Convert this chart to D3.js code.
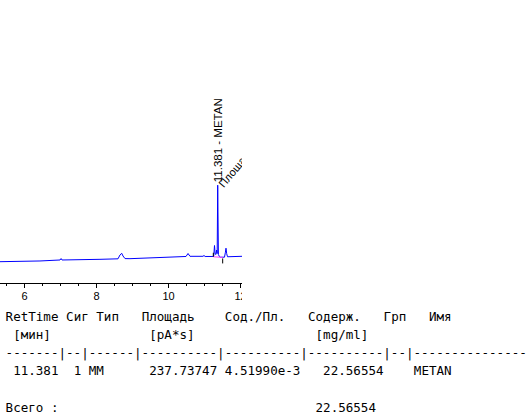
<!DOCTYPE html>
<html>
<head>
<meta charset="utf-8">
<script src="https://cdn.jsdelivr.net/npm/d3@7"></script>
<style>
  body { margin: 0; background: #fff; }
  svg { display: block; }
  .mono { font-family: "DejaVu Sans Mono", monospace; font-size: 12.55px; fill: #000; }
  .axis text { font-family: "Liberation Sans", Arial, sans-serif; font-size: 11px; }
</style>
</head>
<body>
<svg id="chart" width="529" height="418"></svg>
<script>
// signal trace (time in min, signal in pA)
var times   = [5.333, 6.444, 7.0, 7.03, 7.056, 8.111, 8.611, 8.667, 8.714, 8.75, 8.806, 8.944,
               9.778, 10.5, 10.556, 10.611, 10.972, 11.0, 11.03, 11.222, 11.27, 11.292, 11.31,
               11.33, 11.352, 11.366, 11.381, 11.40, 11.425, 11.444, 11.569, 11.595, 11.611,
               11.63, 11.653, 12.056];
var signal  = [1.40, 1.56, 1.78, 2.1, 1.78, 1.93, 2.04, 2.9, 3.27, 2.67, 2.09, 2.07,
               2.33, 2.56, 3.22, 2.6, 2.6, 2.78, 2.56, 2.56, 2.6, 5.0, 3.1,
               3.0, 4.0, 3.2, 18.4, 3.0, 2.6, 2.4, 2.4, 3.5, 4.4,
               3.2, 2.5, 2.6];

// integrated peak: retention time, start/end, baseline levels
var peakTimes  = [11.381];
var peakNames  = ["METAN"];
var peakAreas  = ["237.737"];
var peakStart  = [11.259];
var peakEnd    = [11.519];
var baseStart  = [2.50];
var baseEnd    = [2.35];

var majorTicks = [6, 8, 10, 12];
var minorTicks = [5.5, 6.5, 7, 7.5, 8.5, 9, 9.5, 10.5, 11, 11.5];

// report table
var headCols   = [0, 8, 12, 18, 29, 40, 50, 56];
var headLabels = ["RetTime", "Сиг", "Тип", "Площадь", "Сод./Пл.", "Содерж.", "Грп", "Имя"];
var unitCols   = [1, 19, 41];
var unitLabels = ["[мин]", "[pA*s]", "[mg/ml]"];
var sepWidths  = [7, 2, 6, 10, 10, 10, 2, 15];
var rowCols    = [1, 9, 11, 19, 29, 42, 54];
var rowValues  = ["11.381", "1", "MM", "237.73747", "4.51990e-3", "22.56554", "METAN"];
var totalLabel = "Всего :";
var totalValue = "22.56554";

var svg = d3.select('#chart');
var plotW = 242;

var x = d3.scaleLinear().domain([6, 12]).range([24, 240]);
var y = d3.scaleLinear().domain([0, 40]).range([268, 88]);

svg.append('clipPath').attr('id', 'clip')
    .append('rect').attr('x', 0).attr('y', 0).attr('width', plotW).attr('height', 305);

var g = svg.append('g').attr('clip-path', 'url(#clip)');

// axis
var axisY = 283;
g.append('g').attr('class', 'axis')
    .attr('transform', 'translate(0,' + axisY + ')')
    .call(d3.axisBottom(x).tickValues(minorTicks).tickSize(3).tickSizeOuter(0).tickFormat(''))
    .call(function(a) { a.select('.domain').remove(); });
var ax = g.append('g').attr('class', 'axis')
    .attr('transform', 'translate(0,' + axisY + ')')
    .call(d3.axisBottom(x).tickValues(majorTicks).tickSize(5).tickSizeOuter(0)
        .tickPadding(4).tickFormat(d3.format('d')));
ax.select('.domain').remove();
g.append('line').attr('x1', 0).attr('x2', plotW).attr('y1', axisY + 0.5).attr('y2', axisY + 0.5)
    .attr('stroke', '#000');

// trace
var pts = times.map(function(t, i) { return [t, signal[i]]; });
var line = d3.line().x(function(d) { return x(d[0]); }).y(function(d) { return y(d[1]); });
g.append('path').datum(pts).attr('d', line)
    .attr('fill', 'none').attr('stroke', '#0000ff').attr('stroke-width', 1);

// peak baseline and markers
peakTimes.forEach(function(t, i) {
    g.append('line')
        .attr('x1', x(peakStart[i])).attr('y1', y(baseStart[i]))
        .attr('x2', x(peakEnd[i])).attr('y2', y(baseEnd[i]))
        .attr('stroke', '#ff44ff').attr('stroke-width', 1);
    g.append('line')
        .attr('x1', x(peakStart[i])).attr('x2', x(peakStart[i]))
        .attr('y1', y(baseStart[i]) - 4).attr('y2', y(baseStart[i]))
        .attr('stroke', '#000');
    g.append('line')
        .attr('x1', x(peakEnd[i])).attr('x2', x(peakEnd[i]))
        .attr('y1', y(baseEnd[i]) + 1).attr('y2', y(baseEnd[i]) + 6)
        .attr('stroke', '#000');

    var px = x(t), top = y(d3.max(pts, function(d) { return Math.abs(d[0] - t) < 0.01 ? d[1] : 0; }));
    g.append('text')
        .attr('transform', 'translate(' + (px + 4.5) + ',' + (top - 3) + ') rotate(-90)')
        .style('font-family', '"Liberation Sans", Arial, sans-serif')
        .style('font-size', '11.5px')
        .text(t.toFixed(3) + ' - ' + peakNames[i]);
    g.append('text')
        .attr('transform', 'translate(' + (px + 6) + ',' + (top + 3) + ') rotate(-50)')
        .style('font-family', '"Liberation Sans", Arial, sans-serif')
        .style('font-size', '11px')
        .text('Площадь: ' + peakAreas[i]);
});

// report table
var cw = 7.56, x0 = 5.6;
function col(i) { return x0 + i * cw; }
var tbl = svg.append('g').attr('class', 'mono');

function row(cols, labels, yy) {
    tbl.selectAll(null).data(labels).enter().append('text')
        .attr('x', function(d, i) { return col(cols[i]); })
        .attr('y', yy)
        .text(function(d) { return d; });
}
row(headCols, headLabels, 321);
row(unitCols, unitLabels, 339);
var sep = sepWidths.map(function(w) { return '-'.repeat(w); }).join('|');
tbl.append('text').attr('x', col(0)).attr('y', 357).text(sep);
row(rowCols, rowValues, 375);
row([0, 41], [totalLabel, totalValue], 412);
</script>
</body>
</html>
